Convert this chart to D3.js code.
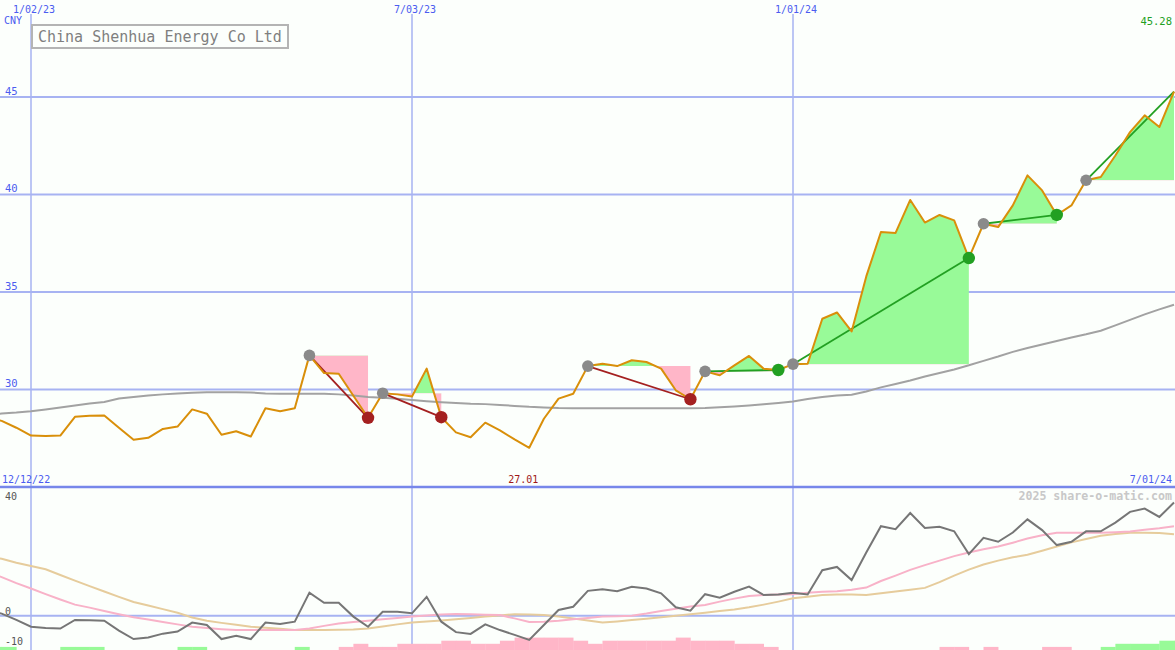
<!DOCTYPE html>
<html><head><meta charset="utf-8">
<script src="https://cdn.jsdelivr.net/npm/d3@7"></script>
<style>html,body{margin:0;padding:0;background:#fcfffc;} svg{display:block}</style>
</head><body><svg id="c" width="1175" height="650"></svg>
<script>
// ---------- DATA ----------
const title = "China Shenhua Energy Co Ltd";
const currency = "CNY";
const firstWeek = "2022-12-12";
const lastWeek = "2024-07-01";

const price = [28.55, 28.39, 28.04, 27.64, 27.61, 27.64, 28.60, 28.65, 28.67, 28.04,
 27.42, 27.52, 27.98, 28.10, 28.98, 28.76, 27.68, 27.86, 27.59, 29.04,
 28.89, 29.04, 31.75, 30.84, 30.81, 29.68, 28.55, 29.81, 29.75, 29.64,
 31.07, 28.58, 27.80, 27.55, 28.30, 27.90, 27.44, 27.01, 28.50, 29.53,
 29.78, 31.20, 31.32, 31.20, 31.50, 31.41, 31.07, 29.96, 29.50, 30.93,
 30.73, 31.24, 31.72, 31.07, 31.00, 31.30, 31.32, 33.63, 33.95, 32.98,
 35.80, 38.08, 38.03, 39.72, 38.56, 38.95, 38.67, 36.74, 38.50, 38.33,
 39.44, 40.98, 40.21, 38.95, 39.44, 40.73, 40.90, 42.00, 43.20, 44.06,
 43.46, 45.28];

const movingAvg = [28.64, 28.77, 28.82, 28.89, 28.98, 29.08, 29.18, 29.28, 29.36, 29.54,
 29.62, 29.69, 29.75, 29.80, 29.83, 29.86, 29.86, 29.86, 29.85, 29.80,
 29.78, 29.78, 29.78, 29.78, 29.75, 29.69, 29.62, 29.58, 29.52, 29.46,
 29.40, 29.35, 29.31, 29.27, 29.25, 29.21, 29.16, 29.11, 29.08, 29.05,
 29.04, 29.04, 29.04, 29.04, 29.04, 29.04, 29.04, 29.04, 29.04, 29.05,
 29.09, 29.13, 29.18, 29.24, 29.31, 29.39, 29.51, 29.62, 29.69, 29.73,
 29.90, 30.11, 30.28, 30.46, 30.67, 30.85, 31.03, 31.24, 31.47, 31.69,
 31.93, 32.13, 32.31, 32.49, 32.67, 32.83, 33.01, 33.29, 33.57, 33.85,
 34.11, 34.35];

const oscillator = [1.7, 0.7, -1.4, -3.7, -4.1, -4.3, -1.4, -1.5, -1.7, -5.0,
 -7.8, -7.3, -6.0, -5.3, -2.3, -3.1, -7.8, -6.7, -7.8, -2.3,
 -2.8, -2.0, 7.7, 4.3, 4.3, -0.3, -3.7, 1.3, 1.3, 0.8,
 6.3, -2.0, -5.5, -6.1, -2.9, -4.8, -6.4, -8.1, -3.1, 1.9,
 3.0, 8.3, 8.8, 8.2, 9.7, 9.1, 7.5, 2.8, 1.7, 7.2,
 6.0, 8.0, 9.7, 6.9, 7.1, 7.7, 7.1, 15.2, 16.3, 11.9,
 21.1, 29.9, 28.9, 34.3, 29.3, 29.7, 28.2, 20.6, 26.0, 24.7,
 27.8, 32.2, 28.6, 23.6, 24.7, 28.2, 28.2, 31.1, 34.7, 35.8,
 33.0, 37.8];

const oscFast = [14.6, 12.9, 10.9, 9.1, 7.2, 5.4, 3.7, 2.7, 1.6, 0.5,
 -0.5, -1.3, -2.1, -2.9, -3.7, -4.1, -4.5, -4.8, -4.8, -4.8,
 -4.8, -4.8, -4.3, -3.4, -2.6, -2.1, -1.7, -1.2, -0.8, -0.3,
 0.1, 0.4, 0.6, 0.5, 0.3, 0.2, -0.9, -2.1, -2.0, -1.7,
 -1.2, -0.8, -0.3, -0.2, 0.0, 0.7, 1.6, 2.3, 3.1, 3.6,
 4.7, 5.7, 6.6, 6.9, 7.1, 7.2, 7.7, 8.0, 8.2, 8.7,
 9.4, 11.6, 13.4, 15.3, 16.9, 18.4, 19.9, 21.1, 22.2, 23.1,
 24.4, 25.8, 26.9, 27.7, 27.7, 27.7, 27.7, 27.9, 28.1, 28.7,
 29.2, 29.9];

const oscSlow = [20.2, 19.0, 17.7, 16.6, 15.5, 13.6, 11.7, 9.9, 8.1, 6.3,
 4.6, 3.4, 2.2, 1.0, -0.6, -1.7, -2.4, -3.0, -3.7, -4.0,
 -4.4, -4.8, -4.8, -4.8, -4.7, -4.6, -4.3, -3.6, -2.9, -2.3,
 -1.9, -1.6, -1.2, -0.8, -0.3, 0.1, 0.5, 0.4, 0.2, -0.3,
 -0.9, -1.6, -2.3, -1.9, -1.4, -1.0, -0.5, 0.0, 0.5, 1.0,
 1.6, 2.1, 2.8, 3.7, 4.7, 5.8, 6.3, 6.9, 7.1, 7.1,
 6.9, 7.5, 8.1, 8.7, 9.3, 11.2, 13.4, 15.4, 17.1, 18.4,
 19.5, 20.4, 21.7, 23.1, 24.5, 25.6, 26.7, 27.3, 27.7, 27.7,
 27.6, 27.2];

const histogram = [1, 1, 0, 0, 0, 1, 1, 1, 0, 0,
 0, 0, 0, 1, 1, 0, 0, 0, 0, 0,
 0, 1, 0, 0, -1, -2, -1, -1, -2, -2,
 -2, -3, -3, -2, -2, -3, -4, -4, -4, -4,
 -3, -2, -3, -3, -3, -3, -3, -4, -3, -3,
 -3, -2, -2, -1, 0, 0, 0, 0, 0, 0,
 0, 0, 0, 0, 0, -1, -1, 0, -1, 0,
 0, 0, -1, -1, 0, 0, 1, 2, 2, 2,
 3, 3];

const swingStart = [22, 27, 41, 49, 55, 68, 75];
const swingEnd   = [26, 31, 48, 54, 67, 73, 81];
const swingOpen  = [false, false, false, false, false, false, true];

const xTickDates  = ["2023-01-02", "2023-07-03", "2024-01-01"];
const xTickLabels = ["1/02/23", "7/03/23", "1/01/24"];
const yTicks = [30, 35, 40, 45];
const oscTicks = [40, 0, -10];
const rangeStartLabel = "12/12/22";
const rangeEndLabel = "7/01/24";
const watermark = "2025 share-o-matic.com";

// ---------- CHART ----------
const W = 1175, H = 650, SEP = 487;
const parse = d3.utcParse("%Y-%m-%d");
const dates = d3.utcMonday.range(parse(firstWeek), d3.utcDay.offset(parse(lastWeek), 1));
const svg = d3.select("#c");
svg.append("rect").attr("width", W).attr("height", H).attr("fill", "#fcfffc");

const x = d3.scaleUtc().domain([parse("2023-01-02"), parse("2024-07-01")]).range([31, 1174]);
const y = d3.scaleLinear().domain([30, 45]).range([389.5, 97]);
const yo = d3.scaleLinear().domain([0, 40]).range([615.7, 496]);
const yh = d3.scaleLinear().domain([0, 4]).range([650, 637.6]);

const mono = "DejaVu Sans Mono, monospace";
const blue = "#4b5cf0";
const gridC = "#a7b3f2";

const defs = svg.append("defs");
defs.append("clipPath").attr("id", "mainclip").append("rect").attr("x", 0).attr("y", 0).attr("width", W).attr("height", SEP);
defs.append("clipPath").attr("id", "botclip").append("rect").attr("x", 0).attr("y", SEP).attr("width", W).attr("height", H - SEP);

// grid
const grid = svg.append("g");
grid.selectAll(".hg").data(yTicks).join("line")
  .attr("x1", 0).attr("x2", W).attr("y1", d => y(d)).attr("y2", d => y(d))
  .attr("stroke", gridC).attr("stroke-width", 2);
grid.selectAll(".vg").data(xTickDates).join("line")
  .attr("x1", d => x(parse(d))).attr("x2", d => x(parse(d))).attr("y1", 14).attr("y2", H)
  .attr("stroke", gridC).attr("stroke-width", 1.5);
grid.append("line").attr("x1", 0).attr("x2", W).attr("y1", yo(0)).attr("y2", yo(0))
  .attr("stroke", gridC).attr("stroke-width", 2);
grid.append("line").attr("x1", 0).attr("x2", W).attr("y1", SEP).attr("y2", SEP)
  .attr("stroke", "#7787ea").attr("stroke-width", 2.5);

// axis labels
svg.selectAll(".xl").data(xTickDates).join("text")
  .attr("x", (d) => x(parse(d)) + 3).attr("y", 12.5).attr("text-anchor", "middle")
  .attr("font-family", mono).attr("font-size", 10).attr("fill", blue)
  .text((d, i) => xTickLabels[i]);
svg.append("text").attr("x", 4).attr("y", 24).attr("font-family", mono).attr("font-size", 10).attr("fill", blue).text(currency);
svg.selectAll(".yl").data(yTicks).join("text")
  .attr("x", 5).attr("y", d => y(d) - 2.5)
  .attr("font-family", mono).attr("font-size", 10.5).attr("fill", blue).text(d => d);

// title box
svg.append("rect").attr("x", 32).attr("y", 25).attr("width", 256).attr("height", 23)
  .attr("fill", "#fcfffc").attr("stroke", "#b4b4b4").attr("stroke-width", 2);
svg.append("text").attr("x", 38).attr("y", 42).attr("font-family", mono).attr("font-size", 15)
  .attr("fill", "#7f7f7f").text(title);

// last price label
svg.append("text").attr("x", 1172).attr("y", 25).attr("text-anchor", "end")
  .attr("font-family", mono).attr("font-size", 10.5).attr("fill", "#22a022").text(price[price.length - 1].toFixed(2));

// main panel
const main = svg.append("g").attr("clip-path", "url(#mainclip)");
const green = "#98fa98", pink = "#ffb6c8";
swingStart.forEach((s, k) => {
  const e = swingEnd[k];
  const pts = d3.range(s, e + 1);
  const lvl = y(price[s]);
  const area = d3.area().x(i => x(dates[i])).y0(lvl).y1(i => y(price[i]));
  defs.append("clipPath").attr("id", "gc" + k).append("rect").attr("x", 0).attr("y", 0).attr("width", W).attr("height", lvl);
  defs.append("clipPath").attr("id", "pc" + k).append("rect").attr("x", 0).attr("y", lvl).attr("width", W).attr("height", SEP - lvl);
  main.append("g").attr("clip-path", `url(#gc${k})`).append("path").attr("d", area(pts)).attr("fill", green);
  main.append("g").attr("clip-path", `url(#pc${k})`).append("path").attr("d", area(pts)).attr("fill", pink);
});

const lineP = arr => d3.line().x((d, i) => x(dates[i])).y(d => y(d))(arr);
main.append("path").attr("d", lineP(movingAvg)).attr("fill", "none").attr("stroke", "#a2a2a2").attr("stroke-width", 2);

// swing lines
swingStart.forEach((s, k) => {
  const e = swingEnd[k];
  const up = price[e] >= price[s];
  main.append("line").attr("x1", x(dates[s])).attr("y1", y(price[s])).attr("x2", x(dates[e])).attr("y2", y(price[e]))
    .attr("stroke", up ? "#22a022" : "#a42020").attr("stroke-width", 1.8);
});

main.append("path").attr("d", lineP(price)).attr("fill", "none").attr("stroke", "#d98f0a").attr("stroke-width", 2).attr("stroke-linejoin", "round");

// dots
swingStart.forEach((s, k) => {
  const e = swingEnd[k];
  const up = price[e] >= price[s];
  main.append("circle").attr("cx", x(dates[s])).attr("cy", y(price[s])).attr("r", 5.8).attr("fill", "#8a8a8a");
  if (!swingOpen[k]) {
    main.append("circle").attr("cx", x(dates[e])).attr("cy", y(price[e])).attr("r", 6.2).attr("fill", up ? "#22a022" : "#a42020");
  }
});

// bottom labels above separator
svg.append("text").attr("x", 2).attr("y", 483).attr("font-family", mono).attr("font-size", 10).attr("fill", blue).text(rangeStartLabel);
svg.append("text").attr("x", 1172).attr("y", 483).attr("text-anchor", "end").attr("font-family", mono).attr("font-size", 10).attr("fill", blue).text(rangeEndLabel);
const minI = d3.minIndex(price);
svg.append("text").attr("x", x(dates[minI]) - 6).attr("y", 483).attr("text-anchor", "middle")
  .attr("font-family", mono).attr("font-size", 10).attr("fill", "#a01818").text(price[minI].toFixed(2));

// bottom panel
const bot = svg.append("g").attr("clip-path", "url(#botclip)");
const step = x(dates[1]) - x(dates[0]);
bot.selectAll("rect.h").data(histogram.map((v, i) => ({v, i})).filter(d => d.v !== 0)).join("rect")
  .attr("x", d => x(dates[d.i])).attr("width", step + 0.3)
  .attr("y", d => yh(Math.abs(d.v))).attr("height", d => yh(0) - yh(Math.abs(d.v)))
  .attr("fill", d => d.v > 0 ? green : pink);

const lineO = arr => d3.line().x((d, i) => x(dates[i])).y(d => yo(d))(arr);
bot.append("path").attr("d", lineO(oscSlow)).attr("fill", "none").attr("stroke", "#e6cc9c").attr("stroke-width", 2);
bot.append("path").attr("d", lineO(oscFast)).attr("fill", "none").attr("stroke", "#f8b2c8").attr("stroke-width", 2);
bot.append("path").attr("d", lineO(oscillator)).attr("fill", "none").attr("stroke", "#767676").attr("stroke-width", 2);

svg.selectAll(".ol").data(oscTicks).join("text")
  .attr("x", 5).attr("y", d => d === 40 ? yo(d) + 4 : yo(d) - 1)
  .attr("font-family", mono).attr("font-size", 10).attr("fill", "#555").text(d => d);

svg.append("text").attr("x", 1172).attr("y", 500).attr("text-anchor", "end")
  .attr("font-family", mono).attr("font-size", 11.6).attr("font-weight", "bold").attr("fill", "#c8c8c8").text(watermark);
</script></body></html>
